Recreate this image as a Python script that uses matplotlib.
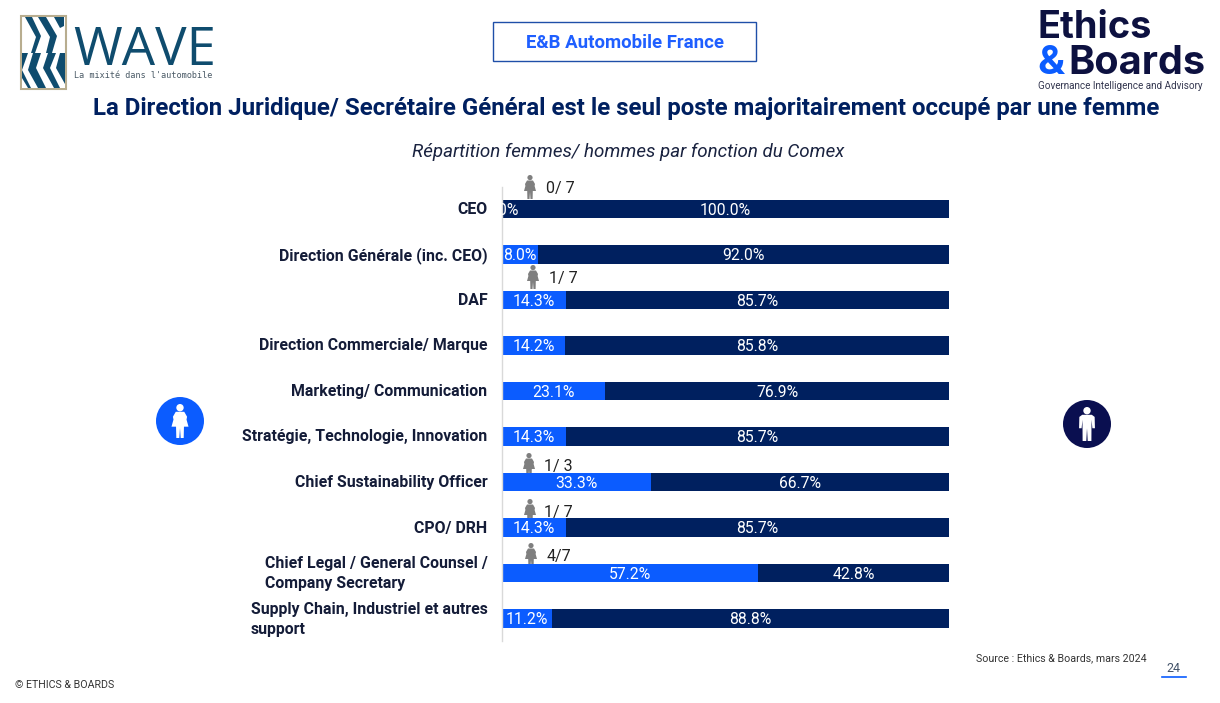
import matplotlib
matplotlib.use('Agg')
import matplotlib.pyplot as plt
from matplotlib.patches import Circle, Polygon, Rectangle
from matplotlib.transforms import ScaledTranslation

W, H = 1220, 703
BLUE = '#0b5cff'
NAVY = '#00205f'
TITLE_NAVY = '#002060'

plt.rcParams['font.family'] = ['Roboto', 'DejaVu Sans']

categories = ['CEO', 'Direction Générale (inc. CEO)', 'DAF',
              'Direction Commerciale/ Marque', 'Marketing/ Communication',
              'Stratégie, Technologie, Innovation', 'Chief Sustainability Officer',
              'CPO/ DRH', 'Chief Legal / General Counsel /\nCompany Secretary',
              'Supply Chain, Industriel et autres\nsupport']
femmes = [0.0, 8.0, 14.3, 14.2, 23.1, 14.3, 33.3, 14.3, 57.2, 11.2]
hommes = [100.0, 92.0, 85.7, 85.8, 76.9, 85.7, 66.7, 85.7, 42.8, 88.8]
counts = ['0/ 7', '', '1/ 7', '', '', '', '1/ 3', '1/ 7', '4/7', '']


def person(ax, cx, top, h, color, dress=False):
    # small pictogram, drawn in pixel coords
    s = h / 24.0
    ax.add_patch(Circle((cx, top + 2.6 * s), 2.6 * s, color=color, lw=0, zorder=5))
    if dress:
        body = [(-3, 5.5), (3, 5.5), (5, 9), (4.6, 11), (6, 16), (2.8, 16), (2.6, 24), (0.5, 24),
                (0, 17), (-0.5, 24), (-2.6, 24), (-2.8, 16), (-6, 16), (-4.6, 11), (-5, 9)]
    else:
        body = [(-3.4, 5.5), (3.4, 5.5), (5.4, 7), (5.6, 15), (3.8, 15), (3.2, 9), (3.1, 24), (0.5, 24),
                (0, 15), (-0.5, 24), (-3.1, 24), (-3.2, 9), (-3.8, 15), (-5.6, 15), (-5.4, 7)]
    ax.add_patch(Polygon([(cx + x * s, top + y * s) for x, y in body], color=color, lw=0, zorder=5))


fig = plt.figure(figsize=(W / 100, H / 100), dpi=100, facecolor='white')

# background axes in pixels, y going down
bg = fig.add_axes([0, 0, 1, 1])
bg.set_xlim(0, W)
bg.set_ylim(H, 0)
bg.axis('off')

# bars
ax = fig.add_axes([502 / W, 1 - 641 / H, 447 / W, 454 / H])
ax.patch.set_alpha(0)
y = list(range(len(categories)))
ax.barh(y, femmes, height=0.41, color=BLUE)
ax.barh(y, hommes, height=0.41, left=femmes, color=NAVY)
ax.set_xlim(0, 100)
ax.set_ylim(9.4945, -0.4835)
ax.set_xticks([])
ax.set_yticks(y)
ax.set_yticklabels(categories, fontsize=11.45, fontweight='bold', color='#141c38', linespacing=1.42, multialignment='left')
ax.tick_params(axis='y', length=0, pad=10.5)
for lab in ax.get_yticklabels():
    up = 3.5 if '\n' in lab.get_text() else 1
    lab.set_transform(lab.get_transform() + ScaledTranslation(0, up / 100, fig.dpi_scale_trans))
for s in ['top', 'right', 'bottom']:
    ax.spines[s].set_visible(False)
ax.spines['left'].set_color('#d9d9d9')
ax.spines['left'].set_linewidth(1)
for i in y:
    ax.text(femmes[i] / 2, i + 0.03, f'{femmes[i]:.1f}%', color='white', fontsize=11.3, ha='center', va='center', clip_on=True)
    ax.text(femmes[i] + hommes[i] / 2, i + 0.03, f'{hommes[i]:.1f}%', color='white', fontsize=11.3, ha='center', va='center')

# counts above the bars
icon_x = [530, 0, 533, 0, 0, 0, 529, 530, 531, 0]
text_x = [546, 0, 549, 0, 0, 0, 544, 544, 547, 0]
text_y = [187, 0, 277, 0, 0, 0, 465, 511, 555, 0]
for i, c in enumerate(counts):
    if c:
        person(bg, icon_x[i], text_y[i] - 12, 24, '#7f7f7f', dress=True)
        bg.text(text_x[i], text_y[i] + 1.5, c, fontsize=11.5, color='#222222', va='center')

# header
bg.add_patch(Rectangle((493, 22), 262.5, 38.5, fc='white', ec='#1f4fa8', lw=1))
bg.text(625, 43, 'E&B Automobile France', color='#1f5fff', fontsize=13.4, fontweight='bold', ha='center', va='center')
bg.text(626.5, 109, 'La Direction Juridique/ Secrétaire Général est le seul poste majoritairement occupé par une femme',
        color=TITLE_NAVY, fontsize=17.3, fontweight='bold', ha='center', va='center')
bg.text(628.5, 151.5, 'Répartition femmes/ hommes par fonction du Comex', color='#1a2340', fontsize=13.5,
        style='italic', ha='center', va='center')

# side icons
bg.add_patch(Circle((180, 421), 24, color=BLUE, lw=0))
person(bg, 180, 404, 34, 'white', dress=True)
bg.add_patch(Circle((1087, 424), 24, color='#0a0f50', lw=0))
person(bg, 1087, 407, 34, 'white')

# WAVE logo
LOGO = '#0f4c6e'
bg.add_patch(Rectangle((21, 16), 45, 73, fc='white', ec='#b8ad8f', lw=1.5))
bg.add_patch(Rectangle((22, 53), 43, 35, fc=LOGO, lw=0))
for pts in [[(25, 17), (32, 17), (41, 36), (35, 53), (31, 53), (36, 37)],
            [(38, 17), (46, 17), (57, 36), (52, 53), (46, 53), (50, 37)],
            [(54, 17), (64, 17), (64, 26), (60, 28)]]:
    bg.add_patch(Polygon(pts, fc=LOGO, lw=0))
for pts in [[(28, 53), (33, 53), (28, 70), (38, 88), (31, 88), (22, 70)],
            [(41, 53), (48, 53), (43, 68), (54, 88), (46, 88), (36, 68)],
            [(56, 53), (60, 53), (56, 68), (65, 84), (65, 88), (60, 88), (50, 68)],
            [(22, 78), (28, 88), (22, 88)]]:
    bg.add_patch(Polygon(pts, fc='white', lw=0))
bg.text(73, 65, 'WAVE', color=LOGO, fontsize=38, family='Open Sans', fontweight='normal', ha='left', va='baseline')
bg.text(74, 75, "La mixité dans l'automobile", color='#4a5a66', fontsize=6.1, family='DejaVu Sans Mono', ha='left', va='center')

# Ethics & Boards logo
INK = '#0d1140'
bg.text(1037, 38, 'Ethics', color=INK, fontsize=27.3, family='Inter', fontweight='bold', va='baseline')
bg.text(1037, 74, '&', color=BLUE, fontsize=29, family='Inter', fontweight='bold', va='baseline')
bg.text(1068, 74, 'Boards', color=INK, fontsize=28.5, family='Inter', fontweight='bold', va='baseline')
bg.text(1038, 86, 'Governance Intelligence and Advisory', color='#33364f', fontsize=7.15, va='center')

# footer
bg.text(976, 658, 'Source : Ethics & Boards, mars 2024', color='#333333', fontsize=7.7, va='center')
bg.text(1173.5, 669, '24', color='#44546a', fontsize=9, ha='center', va='center')
bg.plot([1162, 1186], [677, 677], color=BLUE, lw=1.2)
bg.text(15, 684.5, '© ETHICS & BOARDS', color='#333333', fontsize=7.7, va='center')

fig.savefig('out.png', dpi=100)
